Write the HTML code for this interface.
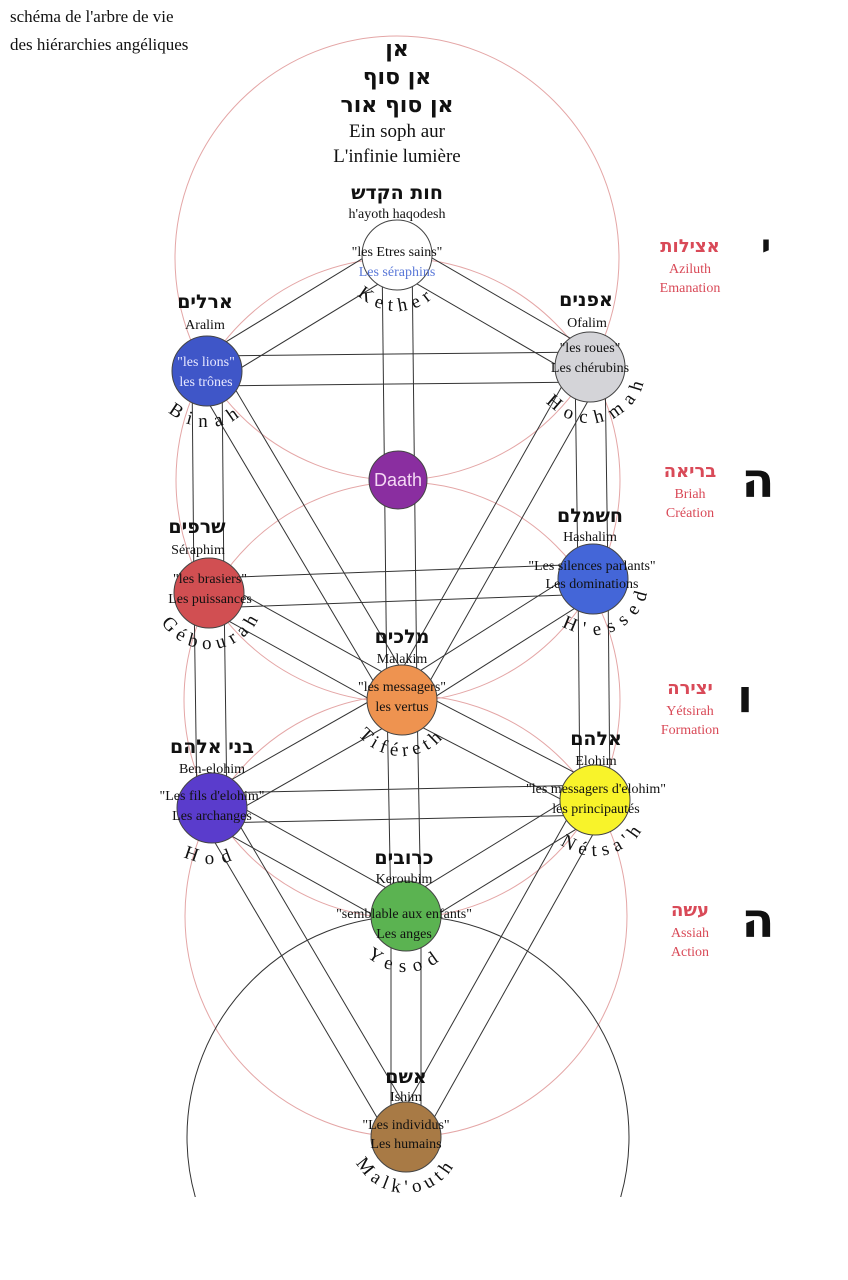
<!DOCTYPE html>
<html><head><meta charset="utf-8"><style>
html,body{margin:0;background:#fff;width:848px;height:1280px;overflow:hidden;}
svg{display:block;font-family:"Liberation Serif","DejaVu Serif",serif;}
.h{font-family:"DejaVu Sans","Liberation Sans",sans-serif;font-weight:bold;}
</style></head><body>
<svg id="s" width="848" height="1280" viewBox="0 0 848 1280" xmlns="http://www.w3.org/2000/svg">
<defs><clipPath id="cp"><rect x="0" y="0" width="848" height="1197"/></clipPath></defs>
<g fill="none" stroke="#e4a6a6" stroke-width="1">
<circle cx="397" cy="258" r="222"/>
<circle cx="398" cy="480" r="222"/>
<circle cx="402" cy="700" r="218"/>
<circle cx="406" cy="916" r="221"/>
</g>
<circle cx="408" cy="1137" r="221" fill="none" stroke="#333" stroke-width="1" clip-path="url(#cp)"/>
<g id="lines" stroke="#333" stroke-width="1"></g>
<g id="nodes" stroke="#444" stroke-width="1">
<circle cx="397" cy="255" r="35" fill="#fff"/>
<circle cx="207" cy="371" r="35" fill="#3f56c8"/>
<circle cx="590" cy="367" r="35" fill="#d4d4d8"/>
<circle cx="398" cy="480" r="29" fill="#8a2ea0"/>
<circle cx="209" cy="593" r="35" fill="#d14f52"/>
<circle cx="593" cy="579" r="35" fill="#4466d8"/>
<circle cx="402" cy="700" r="35" fill="#ee9350"/>
<circle cx="212" cy="808" r="35" fill="#5a3ccc"/>
<circle cx="595" cy="800" r="35" fill="#f8f32a"/>
<circle cx="406" cy="916" r="35" fill="#5bb351"/>
<circle cx="406" cy="1137" r="35" fill="#a87a45"/>
</g>
<g id="names" font-size="19" fill="#111"></g>
<g fill="#111" font-size="17">
<text x="10" y="22">schéma de l'arbre de vie</text>
<text x="10" y="50">des hiérarchies angéliques</text>
</g>
<g text-anchor="middle" fill="#111">
<text class="h" x="397" y="56" font-size="22">אן</text>
<text class="h" x="397" y="84" font-size="22">אן סוף</text>
<text class="h" x="397" y="112" font-size="22">אן סוף אור</text>
<text x="397" y="137" font-size="19">Ein soph aur</text>
<text x="397" y="162" font-size="19">L'infinie lumière</text>

<text class="h" x="397" y="199" font-size="19">חות הקדש</text>
<text x="397" y="218" font-size="14">h'ayoth haqodesh</text>
<text x="397" y="256" font-size="14">"les Etres sains"</text>
<text x="397" y="276" font-size="14" fill="#5a78d8">Les séraphins</text>

<text class="h" x="205" y="308" font-size="19">ארלים</text>
<text x="205" y="329" font-size="14">Aralim</text>
<text x="206" y="366" font-size="14" fill="#e8e8ff">"les lions"</text>
<text x="206" y="386" font-size="14" fill="#e8e8ff">les trônes</text>

<text class="h" x="586" y="306" font-size="19">אפנים</text>
<text x="587" y="327" font-size="14">Ofalim</text>
<text x="590" y="352" font-size="14">"les roues"</text>
<text x="590" y="372" font-size="14">Les chérubins</text>

<text x="398" y="486" font-size="18" fill="#f4d8f4" font-family="Liberation Sans, sans-serif">Daath</text>

<text class="h" x="197" y="533" font-size="19">שרפים</text>
<text x="198" y="554" font-size="14">Séraphim</text>
<text x="210" y="583" font-size="14">"les brasiers"</text>
<text x="210" y="603" font-size="14">Les puissances</text>

<text class="h" x="590" y="522" font-size="19">חשמלם</text>
<text x="590" y="541" font-size="14">Hashalim</text>
<text x="592" y="570" font-size="14">"Les silences parlants"</text>
<text x="592" y="588" font-size="14">Les dominations</text>

<text class="h" x="402" y="643" font-size="19">מלכים</text>
<text x="402" y="663" font-size="14">Malakim</text>
<text x="402" y="691" font-size="14">"les messagers"</text>
<text x="402" y="711" font-size="14">les vertus</text>

<text class="h" x="212" y="753" font-size="19">בני אלהם</text>
<text x="212" y="773" font-size="14">Ben-elohim</text>
<text x="212" y="800" font-size="14">"Les fils d'elohim"</text>
<text x="212" y="820" font-size="14">Les archanges</text>

<text class="h" x="596" y="745" font-size="19">אלהם</text>
<text x="596" y="765" font-size="14">Elohim</text>
<text x="596" y="793" font-size="14">"les messagers d'elohim"</text>
<text x="596" y="813" font-size="14">les principautés</text>

<text class="h" x="404" y="864" font-size="19">כרובים</text>
<text x="404" y="883" font-size="14">Keroubim</text>
<text x="404" y="918" font-size="14">"semblable aux enfants"</text>
<text x="404" y="938" font-size="14">Les anges</text>

<text class="h" x="406" y="1083" font-size="19">אשם</text>
<text x="406" y="1101" font-size="14">Ishim</text>
<text x="406" y="1129" font-size="14">"Les individus"</text>
<text x="406" y="1148" font-size="14">Les humains</text>
</g>
<g text-anchor="middle" fill="#d94a58">
<text class="h" x="690" y="252" font-size="18" font-weight="normal">אצילות</text>
<text x="690" y="273" font-size="14">Aziluth</text>
<text x="690" y="292" font-size="14">Emanation</text>
<text class="h" x="690" y="477" font-size="18" font-weight="normal">בריאה</text>
<text x="690" y="498" font-size="14">Briah</text>
<text x="690" y="517" font-size="14">Création</text>
<text class="h" x="690" y="694" font-size="18" font-weight="normal">יצירה</text>
<text x="690" y="715" font-size="14">Yétsirah</text>
<text x="690" y="734" font-size="14">Formation</text>
<text class="h" x="690" y="916" font-size="18" font-weight="normal">עשה</text>
<text x="690" y="937" font-size="14">Assiah</text>
<text x="690" y="956" font-size="14">Action</text>
</g>
<g text-anchor="middle" fill="#111" font-family="DejaVu Sans, sans-serif" font-weight="bold">
<text x="766" y="258" font-size="34">י</text>
<text x="758" y="497" font-size="48">ה</text>
<text x="745" y="712" font-size="46">ו</text>
<text x="758" y="937" font-size="48">ה</text>
</g>
</svg>
<script>
var N={K:[397,255],B:[207,371],C:[590,367],D:[398,480],G:[209,593],H:[593,579],T:[402,700],O:[212,808],N:[595,800],Y:[406,916],M:[406,1137]};
var conns=[["K","B"],["K","C"],["K","T"],["B","C"],["B","G"],["B","T"],["C","H"],["C","T"],["G","H"],["G","T"],["H","T"],["G","O"],["H","N"],["T","O"],["T","N"],["O","N"],["O","Y"],["N","Y"],["O","M"],["N","M"],["T","Y"],["Y","M"]];
var L=document.getElementById("lines"),h="";
conns.forEach(function(c){var a=N[c[0]],b=N[c[1]],dx=b[0]-a[0],dy=b[1]-a[1],l=Math.hypot(dx,dy),px=-dy/l*15,py=dx/l*15;
[1,-1].forEach(function(s){h+='<line x1="'+(a[0]+s*px)+'" y1="'+(a[1]+s*py)+'" x2="'+(b[0]+s*px)+'" y2="'+(b[1]+s*py)+'"/>';});});
L.innerHTML=h;
var names=[["K","Kether",0,56,6],["B","Binah",0,56,8],["C","Hochmah",15,56,8],["G","Gébourah",5,56,6],["H","H'essed",25,56,8],["T","Tiféreth",0,56,5],["O","Hod",0,56,9],["N","Nétsa'h",12,56,6],["Y","Yesod",0,56,8],["M","Malk'outh",0,56,5]];
var out="";
names.forEach(function(n,i){var c=N[n[0]],r=n[3],t=n[2]*Math.PI/180,a0=t-Math.PI/2,a1=t+Math.PI/2;
function p(a){return [c[0]+r*Math.sin(a),c[1]+r*Math.cos(a)];}
var s=p(a0),e=p(a1);
out+='<path id="np'+i+'" d="M'+s[0]+','+s[1]+' A'+r+','+r+' 0 0 0 '+e[0]+','+e[1]+'" fill="none"/>';
out+='<text letter-spacing="'+n[4]+'" text-anchor="middle"><textPath href="#np'+i+'" startOffset="50%">'+n[1]+'</textPath></text>';});
document.getElementById("names").innerHTML=out;
</script>
</body></html>
